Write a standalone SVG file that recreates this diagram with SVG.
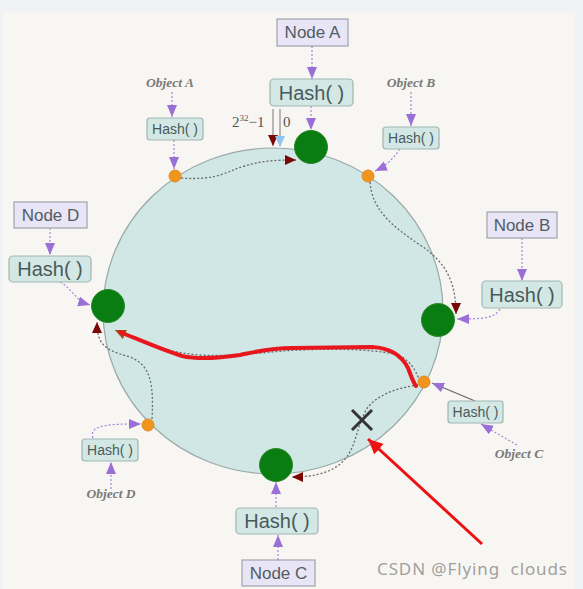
<svg xmlns="http://www.w3.org/2000/svg" width="583" height="589" viewBox="0 0 583 589">
<style>
.nbox{fill:#e7e5f6;stroke:#a2a2ae;stroke-width:1.2}
.hbox{fill:#d3e8e4;stroke:#9fb5b2;stroke-width:1.2}
.ntxt{font-family:"Liberation Sans",Arial,sans-serif;font-size:17px;fill:#535c62;text-anchor:middle}
.htxt{font-family:"Liberation Sans",Arial,sans-serif;font-size:20px;fill:#4a5a5c;text-anchor:middle}
.stxt{font-family:"Liberation Sans",Arial,sans-serif;font-size:14px;fill:#4a5a5c;text-anchor:middle}
.otxt{font-family:"Liberation Serif","Times New Roman",serif;font-style:italic;font-weight:bold;font-size:13.5px;fill:#7a7a7a;text-anchor:middle}
.mtxt{font-family:"Liberation Serif","Times New Roman",serif;font-size:15px;fill:#555}
.parr{fill:none;stroke:#a584d8;stroke-width:1.2;stroke-dasharray:2 2;marker-end:url(#pa)}
.gdot{fill:none;stroke:#6a6a6a;stroke-width:1.3;stroke-dasharray:2 2}
.green{fill:#0a7d12;stroke:#2a8a2a;stroke-width:1}
.orange{fill:#f0951e;stroke:#e08a20;stroke-width:1}
</style>
<defs>
<marker id="pa" markerUnits="userSpaceOnUse" markerWidth="14" markerHeight="12" refX="12" refY="5" orient="auto"><path d="M0,0 L12,5 L0,10 z" fill="#9a6fd6"/></marker>
<marker id="dr" markerUnits="userSpaceOnUse" markerWidth="14" markerHeight="12" refX="11" refY="5" orient="auto"><path d="M0,0 L11,5 L0,10 z" fill="#7a0606"/></marker>
<marker id="br" markerUnits="userSpaceOnUse" markerWidth="14" markerHeight="12" refX="11" refY="5" orient="auto"><path d="M0,0 L11,5 L0,10 z" fill="#9a5418"/></marker>
<marker id="ra" markerUnits="userSpaceOnUse" markerWidth="18" markerHeight="16" refX="15" refY="7" orient="auto"><path d="M0,0 L15,7 L0,14 z" fill="#ee1111"/></marker>
</defs>
<rect x="0" y="0" width="583" height="589" fill="#f0f2f5"/>
<rect x="3" y="12" width="572" height="577" fill="#f8f6f2"/>

<g id="ring">
<ellipse cx="273" cy="311" rx="170" ry="163" fill="#d0e7e5" stroke="#99a9a7" stroke-width="1.2"/>
</g>

<g id="connectors">
<line class="parr" x1="312" y1="46" x2="312" y2="79"/>
<line class="parr" x1="311" y1="106" x2="311" y2="130"/>
<line class="parr" x1="522" y1="238" x2="522" y2="281"/>
<path class="parr" d="M500,309 C494,318 486,319 457,319"/>
<line class="parr" x1="50" y1="228" x2="50" y2="255"/>
<path class="parr" d="M60,282 C72,288 74,300 90,305"/>
<line class="parr" x1="278" y1="560" x2="278" y2="535"/>
<line class="parr" x1="276" y1="507" x2="276" y2="482"/>
<line class="parr" x1="172" y1="92" x2="172" y2="117"/>
<line class="parr" x1="174" y1="140" x2="174" y2="169"/>
<line class="parr" x1="411" y1="92" x2="411" y2="126"/>
<path class="parr" d="M400,149 C392,160 386,166 375,171"/>
<line class="parr" x1="517" y1="445" x2="481" y2="424"/>
<path d="M475,401 L432,383" fill="none" stroke="#666" stroke-width="1.2" marker-end="url(#pa)"/>
<line class="parr" x1="111" y1="489" x2="111" y2="462"/>
<path class="parr" d="M93,438 C88,424 112,424 141,424"/>
<line x1="273" y1="109" x2="273" y2="146" stroke="#777" stroke-width="1" marker-end="url(#dr)"/>
<line x1="280" y1="109" x2="280" y2="146" stroke="#777" stroke-width="1"/>
<path d="M275,136 L285,136 L280,147 z" fill="#8ec6ec"/>
<path class="gdot" d="M181,178 C220,181 228,170 245,166 C260,161 275,160 296,160" marker-end="url(#dr)"/>
<path class="gdot" d="M370,182 C372,210 392,226 420,245 C446,262 456,282 456,314" marker-end="url(#dr)"/>
<path class="gdot" d="M152,419 C154,382 150,365 130,357 C105,350 97,345 97,322" marker-end="url(#dr)"/>
<path class="gdot" d="M420,381 C416,372 412,362 400,356 C385,350 340,348 300,350 C270,351 240,357 200,355 C170,353 145,344 115,330" marker-end="url(#br)"/>
<path class="gdot" d="M418,385 C395,388 375,396 366,410 C356,430 356,445 346,458 C336,470 320,477 292,477" marker-end="url(#dr)"/>
<path d="M120,332 C140,340 160,349 182,356 C200,360 220,358 240,355 C255,352 270,348 292,348 L372,347 C392,348 402,356 408,368 C411,376 413,382 416,386" fill="none" stroke="#e8161d" stroke-width="4" stroke-linecap="round" stroke-linejoin="round"/>
<line x1="482" y1="544" x2="368" y2="439" stroke="#ee1111" stroke-width="3" marker-end="url(#ra)"/>
</g>

<g id="node-a">
<rect class="nbox" x="277" y="19" width="71" height="27"/>
<text class="ntxt" x="312.5" y="38">Node A</text>
</g>
<g id="hash-a">
<rect class="hbox" x="270" y="79" width="83" height="27" rx="4"/>
<text class="htxt" x="311.5" y="100">Hash( )</text>
</g>
<g id="green-a"><circle class="green" cx="311" cy="147" r="16.5"/></g>

<g id="node-b">
<rect class="nbox" x="487" y="212" width="70" height="26"/>
<text class="ntxt" x="522" y="231">Node B</text>
</g>
<g id="hash-b">
<rect class="hbox" x="482" y="281" width="80" height="27" rx="4"/>
<text class="htxt" x="522" y="302">Hash( )</text>
</g>
<g id="green-b"><circle class="green" cx="438" cy="320" r="16.5"/></g>

<g id="node-d">
<rect class="nbox" x="14" y="202" width="73" height="26"/>
<text class="ntxt" x="50.5" y="221">Node D</text>
</g>
<g id="hash-d">
<rect class="hbox" x="9" y="256" width="82" height="26" rx="4"/>
<text class="htxt" x="50" y="276">Hash( )</text>
</g>
<g id="green-d"><circle class="green" cx="108" cy="306" r="16.5"/></g>

<g id="node-c">
<rect class="nbox" x="242" y="560" width="73" height="26"/>
<text class="ntxt" x="278.5" y="579">Node C</text>
</g>
<g id="hash-c">
<rect class="hbox" x="236" y="508" width="82" height="26" rx="4"/>
<text class="htxt" x="277" y="528">Hash( )</text>
</g>
<g id="green-c"><circle class="green" cx="276" cy="465" r="16.5"/></g>

<g id="object-a">
<text class="otxt" x="170" y="87">Object A</text>
<rect class="hbox" x="147" y="118" width="56" height="22" rx="3"/>
<text class="stxt" x="175" y="134">Hash( )</text>
<circle class="orange" cx="175" cy="176" r="6"/>
</g>
<g id="object-b">
<text class="otxt" x="411" y="87">Object B</text>
<rect class="hbox" x="383" y="127" width="56" height="22" rx="3"/>
<text class="stxt" x="411" y="143">Hash( )</text>
<circle class="orange" cx="368" cy="176" r="6"/>
</g>
<g id="object-c">
<text class="otxt" x="519" y="458">Object C</text>
<rect class="hbox" x="448" y="401" width="55" height="22" rx="3"/>
<text class="stxt" x="475.5" y="417">Hash( )</text>
<circle class="orange" cx="424" cy="382" r="6"/>
</g>
<g id="object-d">
<text class="otxt" x="111" y="498">Object D</text>
<rect class="hbox" x="82" y="439" width="56" height="22" rx="3"/>
<text class="stxt" x="110" y="455">Hash( )</text>
<circle class="orange" cx="148" cy="425" r="6"/>
</g>

<g id="labels">
<text class="mtxt" x="232" y="127">2<tspan font-size="9" dy="-6">32</tspan><tspan dy="6">−1</tspan></text>
<text class="mtxt" x="283" y="127">0</text>
</g>

<g id="cross">
<path d="M352,410 L372,430 M372,410 L352,430" stroke="#333" stroke-width="3" fill="none"/>
</g>

<text x="377" y="575" textLength="190" style="white-space:pre" font-family="'Noto Sans','Liberation Sans',sans-serif" font-size="17" fill="#a0a0a0">CSDN @Flying  clouds</text>
</svg>
